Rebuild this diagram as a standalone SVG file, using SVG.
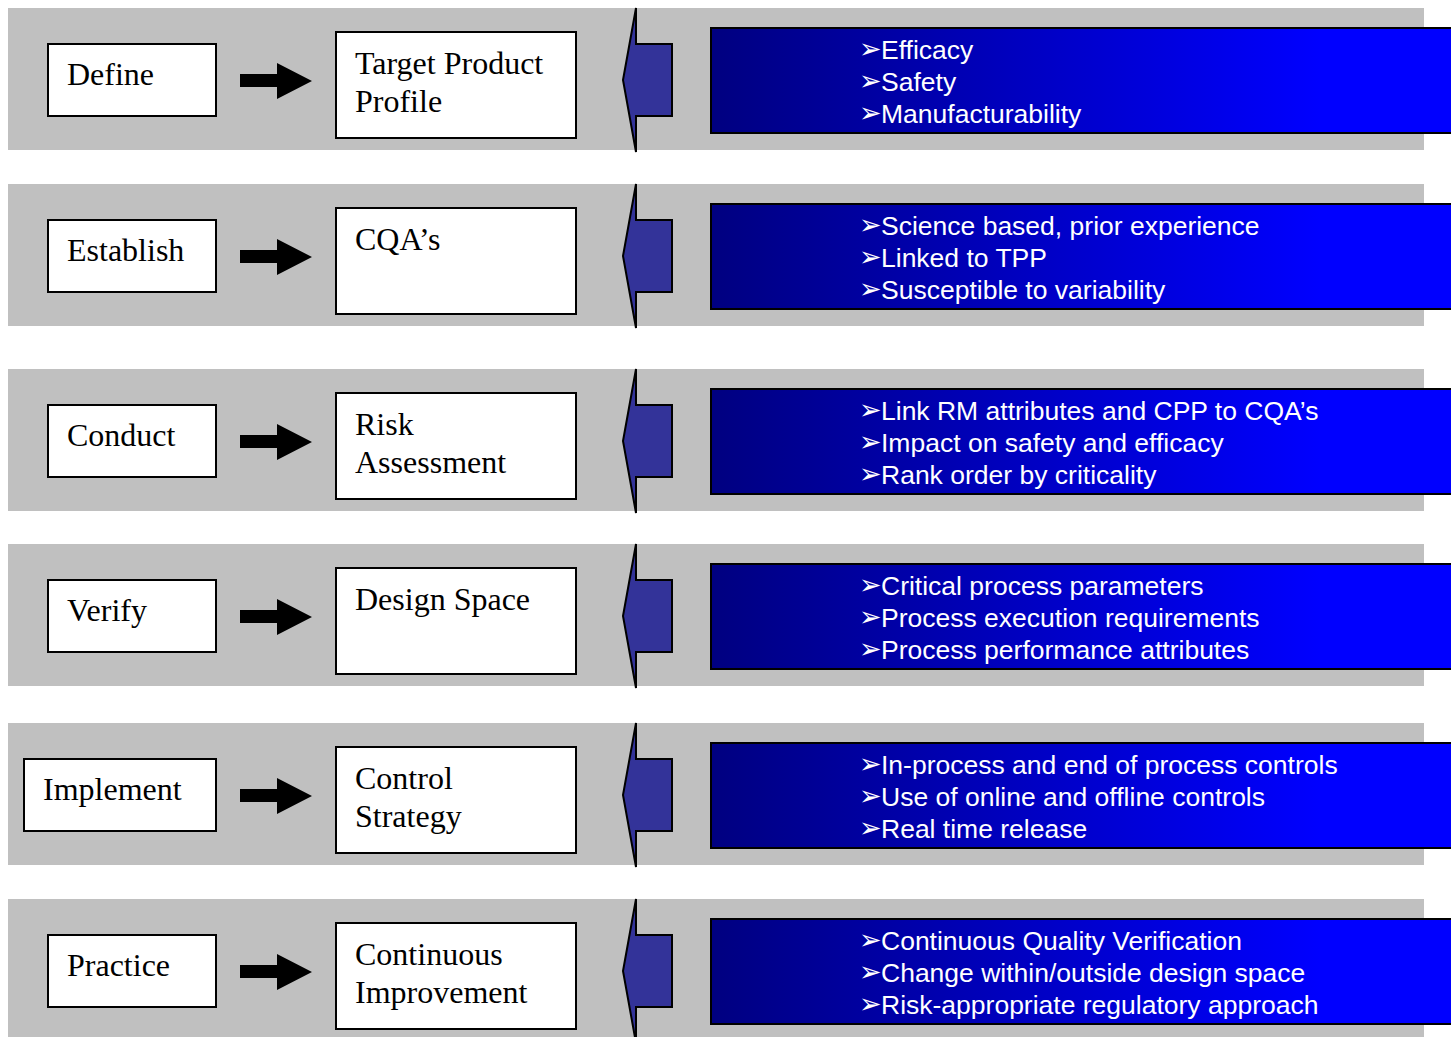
<svg xmlns="http://www.w3.org/2000/svg" xmlns:xlink="http://www.w3.org/1999/xlink" width="1451" height="1037" viewBox="0 0 1451 1037">
  <style>
    .band { fill: #c0c0c0; }
    .box { fill: #ffffff; stroke: #000000; stroke-width: 2; }
    .lbl { font-family: "Liberation Serif", "Times New Roman", serif; font-size: 32px; fill: #000000; }
    .panel { fill: url(#panelFill); stroke: #000000; stroke-width: 2; }
    .pt { font-family: "Liberation Sans", Arial, sans-serif; font-size: 26.5px; fill: #ffffff; }
    .bul { font-family: "DejaVu Sans", sans-serif; font-size: 27px; fill: #ffffff; }
    .back { fill: #333399; stroke: #000000; stroke-width: 2; stroke-linejoin: miter; }
    .go { fill: #000000; }
  </style>
  <defs>
    <linearGradient id="panelFill" gradientUnits="userSpaceOnUse" x1="711" y1="0" x2="1320" y2="0">
      <stop offset="0" stop-color="#000080"/>
      <stop offset="1" stop-color="#0000ff"/>
    </linearGradient>
    <!-- shared row pieces, positioned by each row's translate -->
    <rect id="bandShape" class="band" x="8" y="8" width="1416" height="142"/>
    <polygon id="goArrow" class="go" points="240,74 277,74 277,63 312,81 277,99 277,87 240,87"/>
    <polygon id="backArrow" class="back" points="636,8 636,44 672,44 672,116 636,116 636,152 623,80"/>
    <rect id="panelShape" class="panel" x="711" y="28" width="760" height="105"/>
  </defs>

  <!-- grey row bands -->
  <g id="bands">
    <use xlink:href="#bandShape" transform="translate(0,0)"/>
    <use xlink:href="#bandShape" transform="translate(0,176)"/>
    <use xlink:href="#bandShape" transform="translate(0,361)"/>
    <use xlink:href="#bandShape" transform="translate(0,536)"/>
    <use xlink:href="#bandShape" transform="translate(0,715)"/>
    <use xlink:href="#bandShape" transform="translate(0,891)"/>
  </g>

  <!-- connectors: black arrows between the step boxes, blue arrows back from the detail panels -->
  <g id="connectors">
    <use xlink:href="#goArrow" transform="translate(0,0)"/>
    <use xlink:href="#goArrow" transform="translate(0,176)"/>
    <use xlink:href="#goArrow" transform="translate(0,361)"/>
    <use xlink:href="#goArrow" transform="translate(0,536)"/>
    <use xlink:href="#goArrow" transform="translate(0,715)"/>
    <use xlink:href="#goArrow" transform="translate(0,891)"/>
    <use xlink:href="#backArrow" transform="translate(0,0)"/>
    <use xlink:href="#backArrow" transform="translate(0,176)"/>
    <use xlink:href="#backArrow" transform="translate(0,361)"/>
    <use xlink:href="#backArrow" transform="translate(0,536)"/>
    <use xlink:href="#backArrow" transform="translate(0,715)"/>
    <use xlink:href="#backArrow" transform="translate(0,891)"/>
  </g>

  <!-- row 1 -->
  <g transform="translate(0,0)">
    <g id="define"><rect class="box" x="48" y="44" width="168" height="72"/><text class="lbl" x="67" y="85">Define</text></g>
    <g id="tpp"><rect class="box" x="336" y="32" width="240" height="106"/><text class="lbl" x="355" y="74">Target Product</text><text class="lbl" x="355" y="112">Profile</text></g>
    <g id="tpp-detail"><use xlink:href="#panelShape"/>
      <text class="bul" x="859" y="58">➢</text><text class="pt" x="881" y="59">Efficacy</text>
      <text class="bul" x="859" y="90">➢</text><text class="pt" x="881" y="91">Safety</text>
      <text class="bul" x="859" y="122">➢</text><text class="pt" x="881" y="123">Manufacturability</text>
    </g>
  </g>

  <!-- row 2 -->
  <g transform="translate(0,176)">
    <g id="establish"><rect class="box" x="48" y="44" width="168" height="72"/><text class="lbl" x="67" y="85">Establish</text></g>
    <g id="cqas"><rect class="box" x="336" y="32" width="240" height="106"/><text class="lbl" x="355" y="74">CQA’s</text></g>
    <g id="cqas-detail"><use xlink:href="#panelShape"/>
      <text class="bul" x="859" y="58">➢</text><text class="pt" x="881" y="59">Science based, prior experience</text>
      <text class="bul" x="859" y="90">➢</text><text class="pt" x="881" y="91">Linked to TPP</text>
      <text class="bul" x="859" y="122">➢</text><text class="pt" x="881" y="123">Susceptible to variability</text>
    </g>
  </g>

  <!-- row 3 -->
  <g transform="translate(0,361)">
    <g id="conduct"><rect class="box" x="48" y="44" width="168" height="72"/><text class="lbl" x="67" y="85">Conduct</text></g>
    <g id="risk"><rect class="box" x="336" y="32" width="240" height="106"/><text class="lbl" x="355" y="74">Risk</text><text class="lbl" x="355" y="112">Assessment</text></g>
    <g id="risk-detail"><use xlink:href="#panelShape"/>
      <text class="bul" x="859" y="58">➢</text><text class="pt" x="881" y="59">Link RM attributes and CPP to CQA’s</text>
      <text class="bul" x="859" y="90">➢</text><text class="pt" x="881" y="91">Impact on safety and efficacy</text>
      <text class="bul" x="859" y="122">➢</text><text class="pt" x="881" y="123">Rank order by criticality</text>
    </g>
  </g>

  <!-- row 4 -->
  <g transform="translate(0,536)">
    <g id="verify"><rect class="box" x="48" y="44" width="168" height="72"/><text class="lbl" x="67" y="85">Verify</text></g>
    <g id="design-space"><rect class="box" x="336" y="32" width="240" height="106"/><text class="lbl" x="355" y="74">Design Space</text></g>
    <g id="design-space-detail"><use xlink:href="#panelShape"/>
      <text class="bul" x="859" y="58">➢</text><text class="pt" x="881" y="59">Critical process parameters</text>
      <text class="bul" x="859" y="90">➢</text><text class="pt" x="881" y="91">Process execution requirements</text>
      <text class="bul" x="859" y="122">➢</text><text class="pt" x="881" y="123">Process performance attributes</text>
    </g>
  </g>

  <!-- row 5 -->
  <g transform="translate(0,715)">
    <g id="implement"><rect class="box" x="24" y="44" width="192" height="72"/><text class="lbl" x="43" y="85">Implement</text></g>
    <g id="control"><rect class="box" x="336" y="32" width="240" height="106"/><text class="lbl" x="355" y="74">Control</text><text class="lbl" x="355" y="112">Strategy</text></g>
    <g id="control-detail"><use xlink:href="#panelShape"/>
      <text class="bul" x="859" y="58">➢</text><text class="pt" x="881" y="59">In-process and end of process controls</text>
      <text class="bul" x="859" y="90">➢</text><text class="pt" x="881" y="91">Use of online and offline controls</text>
      <text class="bul" x="859" y="122">➢</text><text class="pt" x="881" y="123">Real time release</text>
    </g>
  </g>

  <!-- row 6 -->
  <g transform="translate(0,891)">
    <g id="practice"><rect class="box" x="48" y="44" width="168" height="72"/><text class="lbl" x="67" y="85">Practice</text></g>
    <g id="improvement"><rect class="box" x="336" y="32" width="240" height="106"/><text class="lbl" x="355" y="74">Continuous</text><text class="lbl" x="355" y="112">Improvement</text></g>
    <g id="improvement-detail"><use xlink:href="#panelShape"/>
      <text class="bul" x="859" y="58">➢</text><text class="pt" x="881" y="59">Continuous Quality Verification</text>
      <text class="bul" x="859" y="90">➢</text><text class="pt" x="881" y="91">Change within/outside design space</text>
      <text class="bul" x="859" y="122">➢</text><text class="pt" x="881" y="123">Risk-appropriate regulatory approach</text>
    </g>
  </g>
</svg>
